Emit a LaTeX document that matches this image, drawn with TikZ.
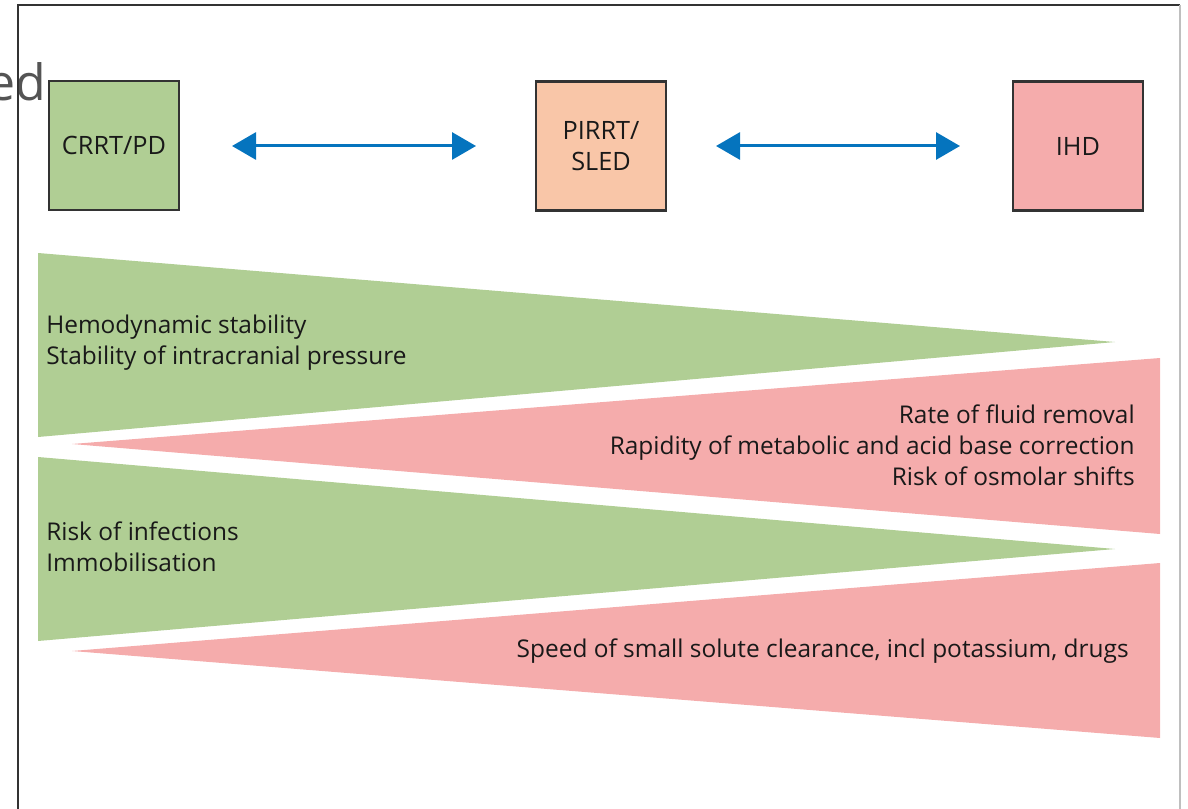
\documentclass[tikz,border=0pt]{standalone}
\usepackage{fontspec}
\setmainfont{Open Sans}
\usetikzlibrary{arrows.meta}
\newlength{\du}
\setlength{\du}{0.7\unitlength}
\definecolor{crrtgreen}{rgb}{0.690000, 0.808000, 0.580000}
\definecolor{sledpeach}{rgb}{0.976000, 0.776000, 0.659000}
\definecolor{ihdred}{rgb}{0.961000, 0.675000, 0.675000}
\definecolor{tradeblue}{rgb}{0.020000, 0.455000, 0.745000}
\definecolor{boxline}{rgb}{0.200000, 0.200000, 0.200000}
\definecolor{titlegray}{rgb}{0.330000, 0.330000, 0.330000}
\tikzset{
  modebox/.style={draw=boxline, line width=2.5\du, minimum width=130\du,
    minimum height=129\du, inner sep=0pt, align=center,
    font=\fontsize{17.7}{21.5}\selectfont, text=black!90},
  wedgetext/.style={inner sep=0pt, font=\fontsize{17.1}{21.7}\selectfont, text=black!90},
  trade/.style={{Triangle[length=16.8pt,width=18.9pt]}-{Triangle[length=16.8pt,width=18.9pt]},
    draw=tradeblue, line width=3\du}
}
\begin{document}
\begin{tikzpicture}
\pgftransformxscale{1.000000}
\pgftransformyscale{-1.000000}
\useasboundingbox (0\du,0\du) rectangle (1188\du,809\du);
% title fragment
\node[anchor=base east, inner sep=0pt, text=titlegray,
  font=\fontsize{35}{38}\selectfont] (title) at (46\du,101\du) {ed};
% frame
\draw[line width=2\du, black!80] (18\du,809\du) -- (18\du,5\du) -- (1180\du,5\du);
\draw[line width=1.5\du, black!25] (1180\du,5\du) -- (1180\du,809\du);
% modes
\node[modebox, fill=crrtgreen] (crrt) at (114\du,145.5\du) {CRRT/PD};
\node[modebox, fill=sledpeach] (sled) at (601\du,146\du) {PIRRT/\\SLED};
\node[modebox, fill=ihdred] (ihd) at (1078\du,146\du) {IHD};
\coordinate (a1) at (232\du,146\du);
\coordinate (a2) at (476\du,146\du);
\coordinate (a3) at (716\du,146\du);
\coordinate (a4) at (960\du,146\du);
\draw[trade] (a1) -- (a2);
\draw[trade] (a3) -- (a4);
% wedges
\fill[crrtgreen] (38\du,253\du) -- (1115\du,342\du) -- (38\du,437\du) -- cycle;
\fill[ihdred] (72\du,444\du) -- (1160\du,358\du) -- (1160\du,534\du) -- cycle;
\fill[crrtgreen] (38\du,457\du) -- (1115\du,549\du) -- (38\du,641\du) -- cycle;
\fill[ihdred] (72\du,651\du) -- (1160\du,563\du) -- (1160\du,738\du) -- cycle;
% wedge texts
\node[wedgetext, anchor=west, align=left] (hemo) at (46\du,343\du)
  {Hemodynamic stability\\Stability of intracranial pressure};
\node[wedgetext, anchor=east, align=right] (fluid) at (1135\du,445\du)
  {Rate of fluid removal\\Rapidity of metabolic and acid base correction\\Risk of osmolar shifts};
\node[wedgetext, anchor=west, align=left] (infect) at (46\du,547\du)
  {Risk of infections\\Immobilisation};
\node[wedgetext, anchor=east] (speed) at (1129\du,651\du)
  {Speed of small solute clearance, incl potassium, drugs};
\end{tikzpicture}
\end{document}
